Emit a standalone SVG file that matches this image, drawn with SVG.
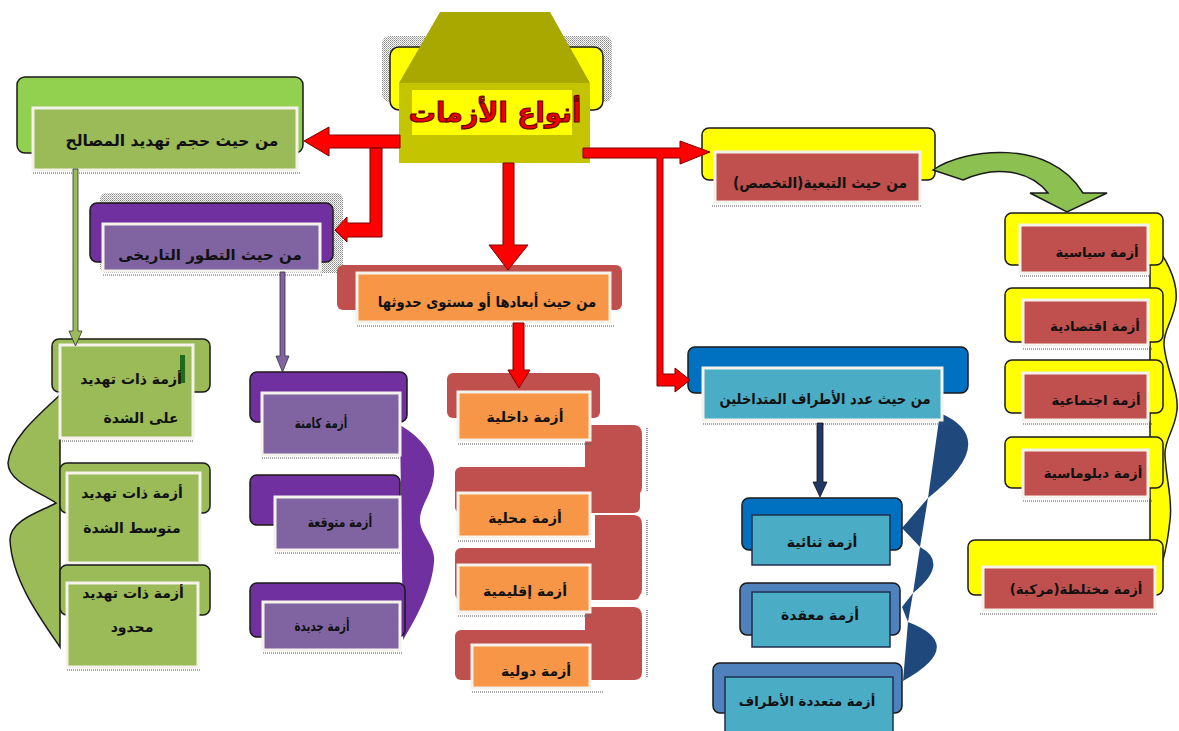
<svg xmlns="http://www.w3.org/2000/svg" width="1179" height="731" viewBox="0 0 1179 731">
<defs>
<style>
text{font-family:"DejaVu Sans","Noto Sans",sans-serif;font-weight:bold;text-anchor:middle;fill:#111;}
.t{font-size:14px;}
.s{font-size:13.3px;}
.h{font-size:15px;}
.ol{stroke:#1a1a1a;stroke-width:1.5;}
.inW{stroke:#f4f2ea;stroke-width:3;}
.inB{stroke:#1f2f4f;stroke-width:1.5;}
.dot{stroke:#555;stroke-width:1.2;stroke-dasharray:1 1;fill:none;}
.red{fill:#ff0000;stroke:#7a0000;stroke-width:1;}
.navy{fill:#1f497d;}
</style>
<pattern id="hatch" width="2" height="2" patternUnits="userSpaceOnUse"><rect width="1" height="1" fill="#8a8a8a"/><rect x="1" y="1" width="1" height="1" fill="#b0b0b0"/></pattern>
</defs>
<rect width="1179" height="731" fill="#ffffff"/>

<g id="shadows">
<rect x="382" y="36" width="230" height="66" rx="8" fill="url(#hatch)"/>
<rect x="100" y="193" width="243" height="80" rx="6" fill="url(#hatch)"/>
</g>

<g id="braces">
<path d="M60,395 C35,418 10,440 8,463 C8,482 40,492 56,503 C40,512 10,520 10,540 C12,580 40,618 60,647 Z" fill="#9bbb59" class="ol"/>
<path d="M400,425 C425,440 436,458 434,475 C432,495 420,505 420,520 C420,535 436,545 434,562 C432,590 415,620 403,640 Z" fill="#7030a0"/>
<path d="M585,425 H634 Q642,425 642,435 V487 Q642,495 634,495 H585 Z" fill="#c0504d"/>
<path d="M595,515 H634 Q642,515 642,525 V589 Q642,597 634,597 H595 Z" fill="#c0504d"/>
<path d="M585,607 H634 Q642,607 642,617 V672 Q642,680 634,680 H585 Z" fill="#c0504d"/>
<path class="dot" d="M647,428 V492 M647,520 V595 M647,610 V678"/>
<path class="navy" d="M940,413 Q1002,440 928,498 Z M928,498 L902,528 L920,547 Z M920,547 Q950,563 913,593 Z M913,593 L902,607 L908,622 Z M908,622 Q968,645 903,681 Z"/>
<path d="M1150,240 C1165,255 1178,280 1176,300 C1174,320 1163,330 1164,345 C1166,370 1179,390 1177,410 C1175,430 1164,440 1165,455 C1166,480 1173,500 1170,520 C1167,550 1160,575 1150,592 Z" fill="#ffff00" class="ol"/>
</g>

<g id="title">
<rect x="390" y="47" width="213" height="63" rx="9" fill="#ffff00" class="ol"/>
<polygon points="440,12 550,12 590,83 399,83" fill="#a8a800"/>
<rect x="399" y="83" width="191" height="80" fill="#c4c400"/>
<rect x="412" y="90" width="160" height="45" fill="#ffff00"/>
<text x="495" y="122" style="font-size:27px;fill:#ee0000;stroke:#6a0000;stroke-width:1.2">أنواع الأزمات</text>
</g>

<g id="n-green-header">
<rect x="17" y="77" width="286" height="76" rx="8" fill="#92d050" class="ol"/>
<rect x="33" y="108" width="264" height="62" fill="#9bbb59" class="inW"/>
<line class="dot" x1="33" y1="173" x2="300" y2="173"/>
<text x="172" y="146" style="font-size:15.5px">من حيث حجم تهديد المصالح</text>
</g>

<g id="n-purple-header">
<rect x="90" y="203" width="243" height="59" rx="7" fill="#7030a0" class="ol"/>
<rect x="103" y="224" width="217" height="47" fill="#8064a2" class="inW"/>
<line class="dot" x1="103" y1="275" x2="322" y2="275"/>
<text class="h" x="210" y="260">من حيث التطور التاريخى</text>
</g>

<g id="n-orange-header">
<rect x="337" y="265" width="285" height="45" rx="6" fill="#c0504d"/>
<rect x="357" y="273" width="253" height="49" fill="#f79646" class="inW"/>
<line class="dot" x1="357" y1="326" x2="615" y2="326"/>
<text class="h" transform="translate(487,307) scale(0.88,1)">من حيث أبعادها أو مستوى حدوثها</text>
</g>

<g id="n-blue-header">
<rect x="688" y="347" width="280" height="46" rx="7" fill="#0070c0" class="ol"/>
<rect x="703" y="368" width="239" height="52" fill="#4bacc6" class="inW"/>
<line class="dot" x1="703" y1="424" x2="948" y2="424"/>
<text class="h" transform="translate(825,404) scale(0.87,1)">من حيث عدد الأطراف المتداخلين</text>
</g>

<g id="n-yellow-header">
<rect x="702" y="128" width="233" height="52" rx="7" fill="#ffff00" class="ol"/>
<rect x="715" y="152" width="205" height="50" fill="#c0504d" class="inW"/>
<line class="dot" x1="712" y1="206" x2="922" y2="206"/>
<text class="h" transform="translate(820,188) scale(0.92,1)">من حيث التبعية(التخصص)</text>
</g>

<g id="n-g1">
<rect x="52" y="339" width="158" height="53" rx="7" fill="#9bbb59" class="ol"/>
<rect x="60" y="345" width="133" height="93" fill="#9bbb59" class="inW"/>
<line class="dot" x1="60" y1="441" x2="193" y2="441"/>
<rect x="180" y="355" width="5" height="28" fill="#1e6b1e"/>
<text class="t" x="131" y="384">أزمة ذات تهديد</text>
<text class="t" x="141" y="423">على الشدة</text>
</g>
<g id="n-g2">
<rect x="60" y="463" width="150" height="50" rx="7" fill="#9bbb59" class="ol"/>
<rect x="67" y="473" width="133" height="90" fill="#9bbb59" class="inW"/>
<line class="dot" x1="67" y1="566" x2="200" y2="566"/>
<text class="t" x="132" y="498">أزمة ذات تهديد</text>
<text class="t" x="132" y="533">متوسط الشدة</text>
</g>
<g id="n-g3">
<rect x="60" y="565" width="150" height="50" rx="7" fill="#9bbb59" class="ol"/>
<rect x="67" y="583" width="131" height="84" fill="#9bbb59" class="inW"/>
<line class="dot" x1="67" y1="670" x2="200" y2="670"/>
<text class="t" x="133" y="598">أزمة ذات تهديد</text>
<text class="t" x="132" y="632">محدود</text>
</g>

<g id="n-p1">
<rect x="250" y="372" width="157" height="50" rx="7" fill="#7030a0" class="ol"/>
<rect x="262" y="393" width="138" height="62" fill="#8064a2" class="inW"/>
<line class="dot" x1="262" y1="458" x2="400" y2="458"/>
<text class="t" transform="translate(321,428) scale(0.74,1)">أزمة كامنة</text>
</g>
<g id="n-p2">
<rect x="250" y="475" width="150" height="50" rx="7" fill="#7030a0" class="ol"/>
<rect x="275" y="497" width="125" height="53" fill="#8064a2" class="inW"/>
<line class="dot" x1="275" y1="553" x2="400" y2="553"/>
<text class="t" transform="translate(340,527) scale(0.77,1)">أزمة متوقعة</text>
</g>
<g id="n-p3">
<rect x="250" y="583" width="155" height="54" rx="7" fill="#7030a0" class="ol"/>
<rect x="263" y="602" width="137" height="48" fill="#8064a2" class="inW"/>
<line class="dot" x1="263" y1="653" x2="402" y2="653"/>
<text class="t" transform="translate(322,631) scale(0.74,1)">أزمة جديدة</text>
</g>

<g id="n-o1">
<rect x="447" y="373" width="153" height="45" rx="6" fill="#c0504d"/>
<rect x="458" y="392" width="132" height="48" fill="#f79646" class="inW"/>
<line class="dot" x1="458" y1="444" x2="592" y2="444"/>
<text class="t" x="525" y="422">أزمة داخلية</text>
</g>
<g id="n-o2">
<rect x="455" y="467" width="185" height="46" rx="6" fill="#c0504d"/>
<rect x="458" y="493" width="132" height="44" fill="#f79646" class="inW"/>
<line class="dot" x1="458" y1="541" x2="592" y2="541"/>
<text class="t" x="525" y="523">أزمة محلية</text>
</g>
<g id="n-o3">
<rect x="455" y="548" width="185" height="52" rx="6" fill="#c0504d"/>
<rect x="458" y="565" width="132" height="47" fill="#f79646" class="inW"/>
<line class="dot" x1="458" y1="616" x2="592" y2="616"/>
<text class="t" x="525" y="596">أزمة إقليمية</text>
</g>
<g id="n-o4">
<rect x="455" y="630" width="145" height="50" rx="6" fill="#c0504d"/>
<rect x="472" y="645" width="118" height="43" fill="#f79646" class="inW"/>
<line class="dot" x1="472" y1="692" x2="604" y2="692"/>
<text class="t" x="536" y="676">أزمة دولية</text>
</g>

<g id="n-b1">
<rect x="742" y="498" width="160" height="52" rx="7" fill="#0070c0" class="ol"/>
<rect x="752" y="515" width="138" height="50" fill="#4bacc6" class="inB"/>
<text class="t" x="822" y="547">أزمة ثنائية</text>
</g>
<g id="n-b2">
<rect x="740" y="583" width="160" height="52" rx="7" fill="#4f81bd" class="ol"/>
<rect x="752" y="592" width="138" height="55" fill="#4bacc6" class="inB"/>
<text class="t" x="820" y="620">أزمة معقدة</text>
</g>
<g id="n-b3">
<rect x="713" y="663" width="189" height="50" rx="7" fill="#4f81bd" class="ol"/>
<rect x="725" y="677" width="168" height="60" fill="#4bacc6" class="inB"/>
<text class="s" x="807" y="706">أزمة متعددة الأطراف</text>
</g>

<g id="n-y1">
<rect x="1005" y="213" width="158" height="52" rx="7" fill="#ffff00" class="ol"/>
<rect x="1020" y="225" width="128" height="48" fill="#c0504d" class="inW"/>
<line class="dot" x1="1020" y1="276" x2="1152" y2="276"/>
<text class="s" x="1097" y="257">أزمة سياسية</text>
</g>
<g id="n-y2">
<rect x="1005" y="288" width="158" height="54" rx="7" fill="#ffff00" class="ol"/>
<rect x="1023" y="300" width="125" height="45" fill="#c0504d" class="inW"/>
<line class="dot" x1="1023" y1="349" x2="1152" y2="349"/>
<text class="s" x="1095" y="331">أزمة اقتصادية</text>
</g>
<g id="n-y3">
<rect x="1005" y="360" width="158" height="53" rx="7" fill="#ffff00" class="ol"/>
<rect x="1023" y="373" width="125" height="47" fill="#c0504d" class="inW"/>
<line class="dot" x1="1023" y1="424" x2="1152" y2="424"/>
<text class="s" x="1096" y="405">أزمة اجتماعية</text>
</g>
<g id="n-y4">
<rect x="1005" y="437" width="158" height="51" rx="7" fill="#ffff00" class="ol"/>
<rect x="1023" y="450" width="125" height="47" fill="#c0504d" class="inW"/>
<line class="dot" x1="1023" y1="501" x2="1152" y2="501"/>
<text class="s" x="1093" y="478">أزمة دبلوماسية</text>
</g>
<g id="n-y5">
<rect x="968" y="540" width="195" height="55" rx="7" fill="#ffff00" class="ol"/>
<rect x="983" y="567" width="172" height="43" fill="#c0504d" class="inW"/>
<line class="dot" x1="980" y1="614" x2="1158" y2="614"/>
<text class="s" x="1076" y="594">أزمة مختلطة(مركبة)</text>
</g>

<g id="connectors">
<polygon class="red" points="400,135 329,135 329,127 304,141 329,156 329,148 400,148"/>
<polygon class="red" points="370,148 382,148 382,237 347,237 347,242 335,230 347,217 347,223 370,223"/>
<polygon class="red" points="503,163 514,163 514,245 528,245 508,270 489,245 503,245"/>
<polygon class="red" points="513,323 524,323 524,370 530,370 519,388 508,370 513,370"/>
<polygon class="red" points="583,148 680,148 680,141 710,152 680,164 680,158 663,158 663,374 675,374 675,368 690,380 675,392 675,386 657,386 657,158 583,158"/>
<polygon points="73,169 78,169 78,331 82,331 75.5,346 69,331 73,331" fill="#9bbb59" stroke="#333" stroke-width="0.8"/>
<polygon points="280,272 285,272 285,356 289,356 282.5,372 276,356 280,356" fill="#8064a2" stroke="#333" stroke-width="0.8"/>
<polygon points="817,423 823,423 823,482 827,482 820,497 813,482 817,482" fill="#1f3864" stroke="#111" stroke-width="0.8"/>
<path d="M933,170 C965,148 1050,138 1083,193 L1107,193 L1067,212 L1030,193 L1048,193 C1030,170 995,165 963,180 Z" fill="#8cc152" stroke="#1a1a1a" stroke-width="1.5"/>
</g>
</svg>
